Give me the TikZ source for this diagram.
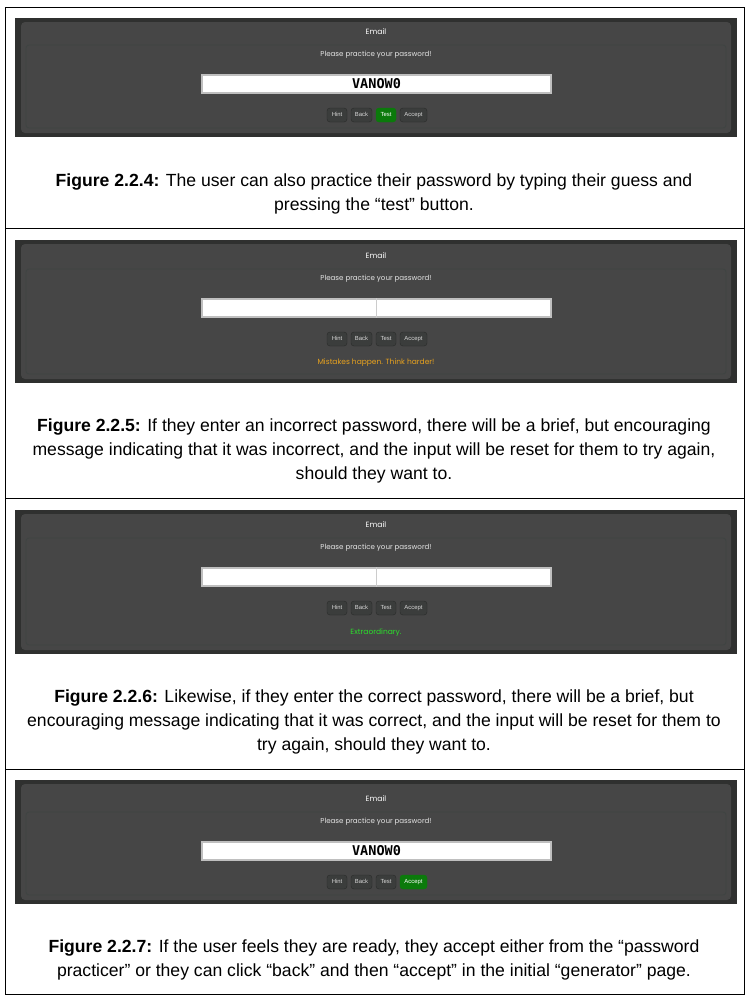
\documentclass[tikz,border=0pt]{standalone}
\usepackage{fontspec}
\setmainfont{Liberation Sans}
\newfontfamily\uifont{Poppins}
\newfontfamily\pwfont{DejaVu Sans Mono}
\definecolor{frameclr}{HTML}{2F302F}
\definecolor{panelclr}{HTML}{464646}
\definecolor{innerclr}{HTML}{3F4442}
\definecolor{btnclr}{HTML}{3B3D3C}
\definecolor{onclr}{HTML}{0B7A0B}
\definecolor{warnclr}{HTML}{E8A21E}
\definecolor{goodclr}{HTML}{2BE02B}
\tikzset{
  shot/.style={fill=frameclr},
  panel/.style={fill=panelclr, rounded corners=4pt},
  inner/.style={draw=innerclr, line width=0.8pt, rounded corners=3pt},
  title/.style={text=white, font=\uifont\fontsize{7.6}{8}\selectfont, inner sep=0pt},
  prompt/.style={text=white!90!black, font=\uifont\fontsize{7.1}{8}\selectfont, inner sep=0pt},
  field/.style={fill=white, draw=gray!50, line width=1.4pt, minimum width=349pt, minimum height=18pt, inner sep=0pt},
  pw/.style={font=\pwfont\bfseries\fontsize{13.5}{14}\selectfont, inner sep=0pt},
  btn/.style={fill=btnclr, draw=black!30!btnclr, rounded corners=3pt, text=white!85!black,
    font=\fontsize{5.9}{6}\selectfont, minimum height=14pt, minimum width=20pt, inner xsep=2pt, inner ysep=0pt,
    text height=4.4pt, text depth=1.2pt},
  btnon/.style={btn, fill=onclr, draw=onclr, text=white},
  msg/.style={font=\uifont\fontsize{7.5}{8}\selectfont, inner sep=0pt},
  figcap/.style={align=center, font=\fontsize{17.6}{24}\selectfont, inner sep=0pt},
  rule/.style={draw=black, line width=1pt}
}
\begin{document}
\begin{tikzpicture}[x=1pt, y=-1pt]
\useasboundingbox (0,0) rectangle (748,999);
% table lines
\draw[rule] (5,7) rectangle (744,994);
\draw[rule] (5,228) -- (744,228);
\draw[rule] (5,498) -- (744,498);
\draw[rule] (5,769) -- (744,769);
% the four screenshots
\foreach \i/\ytop/\ybot/\ey/\ta/\ac in {a/18/137/32/btnon/btn, b/240/383/256/btn/btn,
    c/510/654/525/btn/btn, d/780/904/799/btn/btnon}{
  \fill[shot] (15,\ytop) rectangle (737,\ybot);
  \fill[panel] (21,\ytop+4) rectangle (731,\ybot-4);
  \draw[inner] (26,\ey+13) rectangle (726,\ybot-9);
  \node[title] (email\i) at (376,\ey) {Email};
  \node[prompt] (prompt\i) at (376,\ey+23) {Please practice your password!};
  \node[field] (field\i) at (376.5,\ey+52) {};
  \node[btn] (hint\i) at (337,\ey+83) {Hint};
  \node[btn, minimum width=21pt] (back\i) at (361.5,\ey+83) {Back};
  \node[\ta] (test\i) at (386,\ey+83) {Test};
  \node[\ac, minimum width=27pt] (accept\i) at (413.5,\ey+83) {Accept};
}
\node[pw] (pwa) at (fielda) {VANOW0};
\node[pw] (pwd) at (fieldd) {VANOW0};
\draw[gray!40, line width=0.8pt] (fieldb.north) -- (fieldb.south);
\draw[gray!40, line width=0.8pt] (fieldc.north) -- (fieldc.south);
\node[msg, text=warnclr] (msgb) at (376,363) {Mistakes happen. Think harder!};
\node[msg, text=goodclr] (msgc) at (376,633) {Extraordinary.};
% captions
\node[figcap] (capa) at (374,194) {\textbf{Figure 2.2.4:} The user can also practice their password by typing their guess and\\
  pressing the “test” button.};
\node[figcap] (capb) at (374,451) {\textbf{Figure 2.2.5:} If they enter an incorrect password, there will be a brief, but encouraging\\
  message indicating that it was incorrect, and the input will be reset for them to try again,\\
  should they want to.};
\node[figcap] (capc) at (374,722) {\textbf{Figure 2.2.6:} Likewise, if they enter the correct password, there will be a brief, but\\
  encouraging message indicating that it was correct, and the input will be reset for them to\\
  try again, should they want to.};
\node[figcap] (capd) at (374,960) {\textbf{Figure 2.2.7:} If the user feels they are ready, they accept either from the “password\\
  practicer” or they can click “back” and then “accept” in the initial “generator” page.};
\end{tikzpicture}
\end{document}
